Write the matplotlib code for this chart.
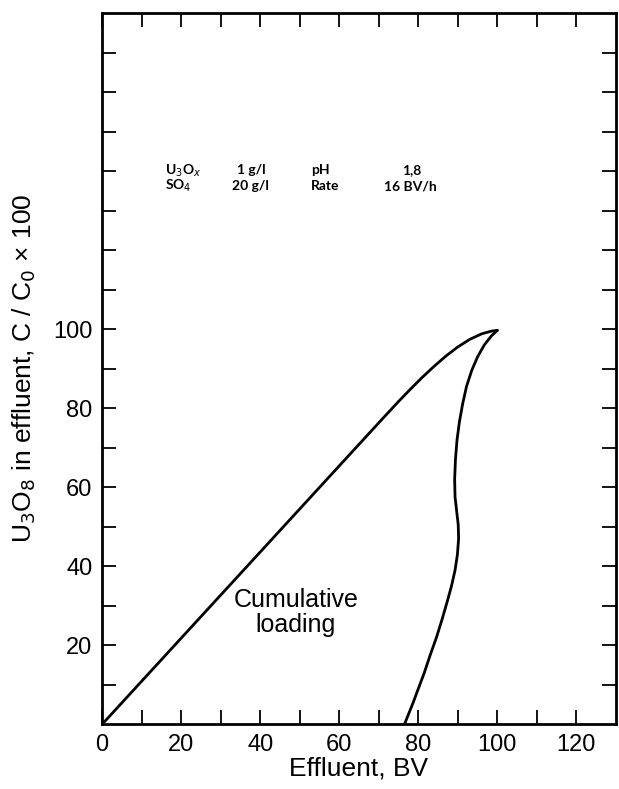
import matplotlib
matplotlib.use("Agg")
import matplotlib.pyplot as plt

plt.rcParams['font.family'] = ['Liberation Sans', 'DejaVu Sans']

# --- Data ---
# cumulative loading curve (effluent BV, C/C0 x 100)
cum_bv = [0, 20, 40, 60, 70, 75, 78, 81, 84, 87, 90, 93, 96, 98.5, 100]
cum_c = [0, 21.8, 43.6, 65.4, 76.3, 81.7, 84.8, 87.8, 90.6, 93.2, 95.5, 97.4, 98.8, 99.5, 99.7]

# breakthrough curve
brk_bv = [76.5, 77.5, 78.7, 80, 81.5, 83, 84.6, 86, 87.3, 88.4, 89.3, 89.9, 90.2, 90.1,
          89.7, 89.3, 89.2, 89.4, 89.8, 90.4, 91.2, 92.2, 93.5, 95.0, 96.7, 98.5, 100]
brk_c = [0, 2.5, 5.5, 9, 13, 17.5, 22, 26.5, 31, 35, 39, 43, 47, 50.5,
         54, 57.5, 62, 67, 72, 76.5, 81, 85.5, 89.5, 93, 96, 98.3, 99.7]

x_ticks = list(range(0, 130, 10))
x_ticklabels = ['0', '', '20', '', '40', '', '60', '', '80', '', '100', '', '120']
y_ticks = list(range(10, 180, 10))
y_ticklabels = ['', '20', '', '40', '', '60', '', '80', '', '100'] + [''] * 7

cond_rows = [["U$_3$O$_x$", "1 g/l", "pH", "1,8"],
             ["SO$_4$", "20 g/l", "Rate", "16 BV/h"]]
cond_x = [[15.9, 34.0, 52.8, 75.8],
          [15.9, 32.8, 52.8, 71.2]]

fig = plt.figure(figsize=(6.19, 7.89), dpi=100)
ax = fig.add_axes([0.165, 0.082, 0.83, 0.9015])

ax.plot(cum_bv, cum_c, color='black', lw=2.0, solid_capstyle='round')
ax.plot(brk_bv, brk_c, color='black', lw=2.0, solid_capstyle='round')

ax.set_xlim(0, 130)
ax.set_ylim(0, 180)
ax.set_xticks(x_ticks)
ax.set_xticklabels(x_ticklabels)
ax.set_yticks(y_ticks)
ax.set_yticklabels(y_ticklabels)

ax.tick_params(direction='in', length=10, width=1.3, top=True, right=True,
               labelsize=17, pad=7)
for s in ax.spines.values():
    s.set_linewidth(2.0)

ax.set_xlabel("Effluent, BV", fontsize=19, labelpad=0)
ax.set_ylabel("U$_3$O$_8$ in effluent, C / C$_0$ × 100", fontsize=19)
ax.yaxis.set_label_coords(-0.125, 0.5)

ax.text(49.0, 28.3, "Cumulative\nloading", fontsize=18, ha='center', va='center',
        multialignment='center', linespacing=1.05)

# test conditions, two tight rows
for r, row in enumerate(cond_rows):
    for cx, txt in zip(cond_x[r], row):
        ax.text(cx, 139.2 - r * 4.0, txt, fontsize=10, fontweight='bold',
                family='Lato', ha='left', va='baseline')

fig.savefig("out.png", dpi=100)
